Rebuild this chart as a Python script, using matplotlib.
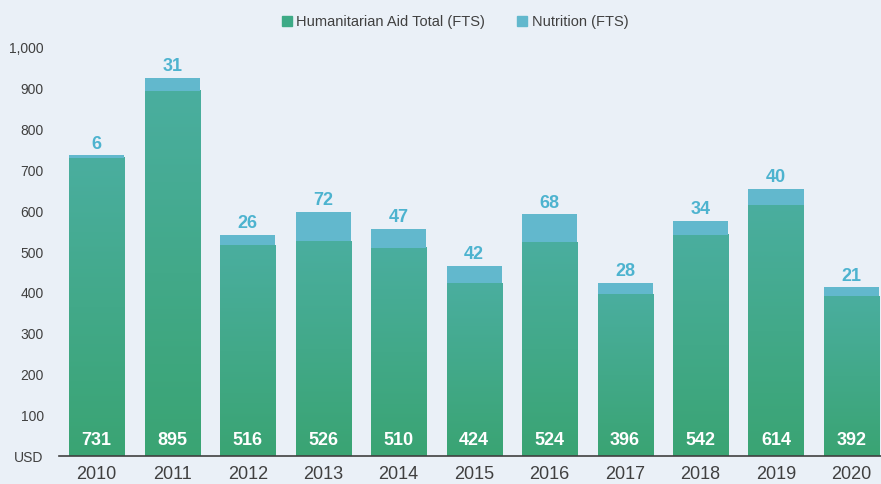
import numpy as np
import matplotlib.pyplot as plt
from matplotlib.patches import Patch
from matplotlib.colors import LinearSegmentedColormap

plt.rcParams['font.family'] = ['Liberation Sans', 'DejaVu Sans']

years = ['2010', '2011', '2012', '2013', '2014', '2015', '2016', '2017', '2018', '2019', '2020']
aid_total = [731, 895, 516, 526, 510, 424, 524, 396, 542, 614, 392]
nutrition = [6, 31, 26, 72, 47, 42, 68, 28, 34, 40, 21]

BG = '#eaf0f7'
GREEN_TOP = '#4aae9f'
GREEN_BOT = '#3aa473'
BLUE = '#62b8cd'
LABEL_BLUE = '#4db3cf'

W, H = 881, 484
fig = plt.figure(figsize=(W / 100, H / 100), dpi=100, facecolor=BG)
ax = fig.add_axes([59 / W, 28 / H, (W - 59) / W, 408 / H], facecolor=BG)

x = np.arange(len(years))
bw = 0.73
cmap = LinearSegmentedColormap.from_list('g', [GREEN_BOT, GREEN_TOP])
grad = np.linspace(0, 1, 256).reshape(-1, 1)

for xi, a, n in zip(x, aid_total, nutrition):
    ax.imshow(grad, cmap=cmap, origin='lower', aspect='auto',
              extent=[xi - bw / 2, xi + bw / 2, 0, a], zorder=2)
    ax.bar(xi, n, bw, bottom=a, color=BLUE, zorder=2)
    ax.text(xi, 39, f'{a}', color='white', fontsize=13, fontweight='bold',
            ha='center', va='center', zorder=3)
    ax.annotate(f'{n}', (xi, a + n), xytext=(0, 2), textcoords='offset points',
                color=LABEL_BLUE, fontsize=13, fontweight='bold',
                ha='center', va='bottom', zorder=3)

ax.set_xlim(-0.5, (W - 96.5) / 75.5)
ax.set_ylim(0, 1000)
ax.set_xticks(x)
ax.set_xticklabels(years, fontsize=13, color='#404040')
yt = np.arange(0, 1001, 100)
ax.set_yticks(yt)
ax.set_yticklabels(['USD'] + [f'{v:,}' for v in yt[1:]], fontsize=10, color='#404040')
ax.tick_params(axis='y', length=0, pad=11)
ax.tick_params(axis='x', length=0, pad=7)
for s in ['top', 'right', 'left']:
    ax.spines[s].set_visible(False)
ax.spines['bottom'].set_color('#404040')
ax.spines['bottom'].set_linewidth(1.2)

handles = [Patch(color='#3daa86', label='Humanitarian Aid Total (FTS)'),
           Patch(color=BLUE, label='Nutrition (FTS)')]
fig.legend(handles=handles, loc='center', bbox_to_anchor=(455 / W, 1 - 22 / H), ncol=2,
           frameon=False, fontsize=10.5, handlelength=0.7, handleheight=0.7,
           handletextpad=0.3, columnspacing=2.2, labelcolor='#404040')

fig.savefig('out.png', dpi=100, facecolor=BG)
